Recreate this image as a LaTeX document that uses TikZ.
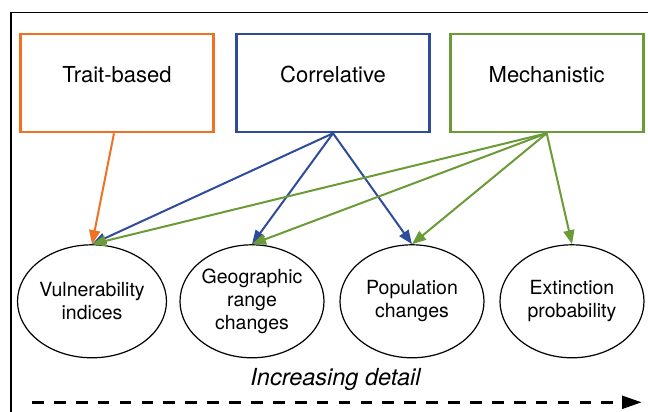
\documentclass[tikz,border=0pt]{standalone}
\usepackage{fontspec}
\setmainfont{TeX Gyre Heros}
\usetikzlibrary{arrows.meta,shapes.geometric}
\definecolor{corange}{RGB}{240,113,33}
\definecolor{cblue}{RGB}{47,76,155}
\definecolor{cgreen}{RGB}{107,155,55}
\begin{document}
\begin{tikzpicture}[x=1pt,y=-1pt,
  method/.style={draw, line width=2.6pt, minimum width=193pt, minimum height=98pt, inner sep=0pt, text height=16pt, text depth=16pt, font=\fontsize{22}{26}\selectfont},
  outcome/.style={draw, ellipse, line width=1.2pt, minimum width=144pt, minimum height=113pt, inner sep=0pt, align=center, font=\fontsize{19.5}{23.4}\selectfont},
  link/.style={line width=2pt, -{Triangle[length=14pt,width=11pt]}},
  frameline/.style={line width=1.6pt},
  detail/.style={line width=3.6pt, dash pattern=on 11.7pt off 10.2pt, -{Triangle[length=20pt,width=12.5pt]}}
]
\useasboundingbox (0,0) rectangle (648,412);
\draw[frameline] (11,412) -- (11,12.7) -- (648,12.7);

\node[method, draw=corange] (t) at (117,83) {Trait-based};
\node[method, draw=cblue] (c) at (333,83) {Correlative};
\node[method, draw=cgreen] (m) at (546.7,83) {Mechanistic};

\node[outcome] (v) at (92,301.3) {Vulnerability\\indices};
\node[outcome] (g) at (252,301.3) {Geographic\\range\\changes};
\node[outcome] (p) at (412,301.3) {Population\\changes};
\node[outcome] (e) at (572,301.3) {Extinction\\probability};

\draw[link, corange] ([xshift=-3pt]t.south) -- (v.north);
\draw[link, cblue] (c.south) -- (v.north);
\draw[link, cblue] (c.south) -- (g.north);
\draw[link, cblue] (c.south) -- (p.north);
\draw[link, cgreen] (m.south) -- (v.north);
\draw[link, cgreen] (m.south) -- (g.north);
\draw[link, cgreen] (m.south) -- (p.north);
\draw[link, cgreen] (m.south) -- (e.north);

\node[font=\itshape\fontsize{23.5}{28}\selectfont] (lab) at (335.5,379.5) {Increasing detail};
\coordinate (ds) at (32,402.3);
\coordinate (de) at (642,402.3);
\draw[detail] (ds) -- (de);
\end{tikzpicture}
\end{document}
